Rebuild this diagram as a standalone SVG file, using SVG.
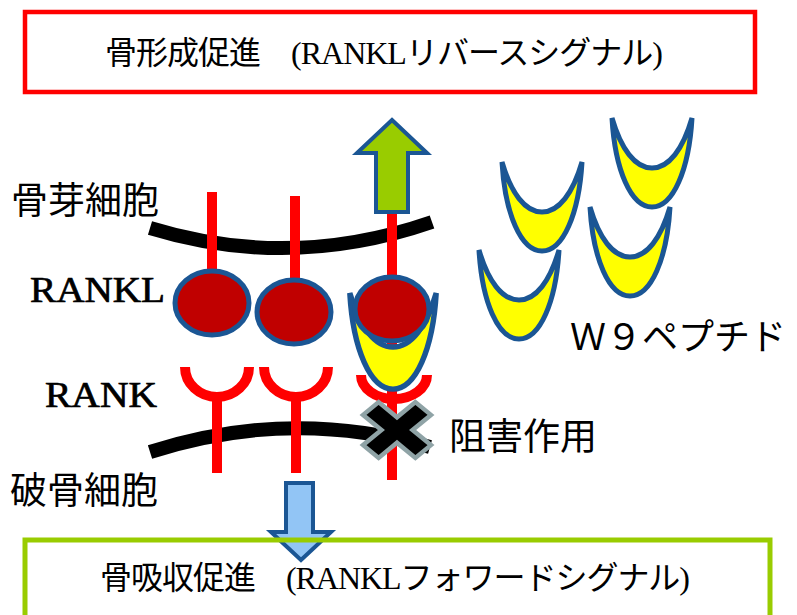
<svg xmlns="http://www.w3.org/2000/svg" width="797" height="615" viewBox="0 0 797 615">
  <style>
    .box-text { font-family: "Liberation Serif", "Noto Sans CJK JP", serif; font-size: 32px; fill: #000; }
    .cell { font-family: "Noto Sans CJK JP", sans-serif; font-size: 37px; fill: #000; }
    .mol { font-family: "Liberation Serif", "Noto Sans CJK JP", serif; font-size: 36px; fill: #000; }
    .heavy { stroke: #000; stroke-width: 0.7; }
    .membrane { fill: none; stroke: #000; stroke-width: 14; }
    .red { fill: none; stroke: #ff0000; stroke-width: 10; }
    .rankl { fill: #c00000; stroke: #1b5694; stroke-width: 5; }
    .peptide { fill: #ffff00; stroke: #1b5694; stroke-width: 5; stroke-linejoin: miter; }
  </style>
  <defs>
    <!-- crescent-shaped W9 peptide, tips at y=0 -->
    <path id="crescent" d="M -40 0 C -37 52 -21 89 0 89 C 21 89 37 52 40 0 C 31 31 17 50 0 50 C -17 50 -31 31 -40 0 Z"/>
  </defs>

  <!-- top result box -->
  <g id="bone-formation">
    <rect x="25" y="12" width="730" height="80" fill="#fff" stroke="#ff0000" stroke-width="4.5"/>
    <text class="box-text" x="105" y="64" textLength="558" lengthAdjust="spacing">骨形成促進　(RANKLリバースシグナル)</text>
  </g>

  <!-- cell labels -->
  <g id="osteoblast-label"><text class="cell" x="11" y="214">骨芽細胞</text></g>
  <g id="rankl-label"><text class="mol heavy" x="30" y="302" textLength="135" lengthAdjust="spacingAndGlyphs">RANKL</text></g>
  <g id="rank-label"><text class="mol heavy" x="45" y="407" textLength="112" lengthAdjust="spacingAndGlyphs">RANK</text></g>
  <g id="osteoclast-label"><text class="cell" x="10" y="504">破骨細胞</text></g>
  <g id="inhibition-label"><text class="cell" x="449" y="450" font-size="36">阻害作用</text></g>
  <g id="w9-label"><text class="mol" x="570" y="350" font-family="Noto Sans CJK JP, sans-serif">Ｗ９ペプチド</text></g>

  <!-- membranes -->
  <g id="osteoblast-membrane"><path class="membrane" d="M 150 228 Q 290 271 432 222"/></g>
  <g id="osteoclast-membrane"><path class="membrane" d="M 150 452 Q 290 407 430 447"/></g>

  <!-- connectors: receptor stems and signal arrows -->
  <g id="connectors">
    <line class="red" x1="212" y1="192" x2="212" y2="285"/>
    <line class="red" x1="295" y1="196" x2="295" y2="295"/>
    <line class="red" x1="392" y1="205" x2="392" y2="480"/>
    <polygon id="reverse-arrow" points="392,120 427,153 408,153 408,212 376,212 376,153 357,153" fill="#99cc00" stroke="#1b5694" stroke-width="4"/>
    <polygon id="forward-arrow" points="286,483 313,483 313,532 331,532 301,560 271,532 286,532" fill="#92c5f5" stroke="#1b5694" stroke-width="4"/>
  </g>

  <!-- RANK receptors -->
  <g id="rank-1">
    <path class="red" d="M 185 367 A 32 30 0 0 0 249 367 M 217 396 V 473"/>
  </g>
  <g id="rank-2">
    <path class="red" d="M 264 367 A 32 30 0 0 0 328 367 M 296 396 V 473"/>
  </g>
  <g id="rank-3">
    <path class="red" d="M 361 375 A 33 24 0 0 0 427 375"/>
  </g>

  <!-- RANKL ligands -->
  <g id="rankl-1"><ellipse class="rankl" cx="212" cy="303" rx="37" ry="32"/></g>
  <g id="rankl-2"><ellipse class="rankl" cx="294" cy="312" rx="37" ry="32"/></g>

  <!-- RANKL bound by a W9 peptide -->
  <g id="rankl-3">
    <use href="#crescent" class="peptide" transform="translate(393,293) scale(1.08)"/>
    <ellipse class="rankl" cx="392" cy="309" rx="37" ry="32"/>
  </g>

  <!-- free W9 peptides -->
  <g id="peptide-1"><use href="#crescent" class="peptide" transform="translate(652,118)"/></g>
  <g id="peptide-2"><use href="#crescent" class="peptide" transform="translate(542,162)"/></g>
  <g id="peptide-3"><use href="#crescent" class="peptide" transform="translate(630,207)"/></g>
  <g id="peptide-4"><use href="#crescent" class="peptide" transform="translate(519,250)"/></g>

  <!-- inhibition mark -->
  <g id="inhibition-x">
    <polygon points="-11,-37 11,-37 11,-11 37,-11 37,11 11,11 11,37 -11,37 -11,11 -37,11 -37,-11 -11,-11"
             transform="translate(397,430) scale(1,0.82) rotate(45)"
             fill="#000" stroke="#8fa3a6" stroke-width="5" stroke-linejoin="miter"/>
  </g>

  <!-- bottom result box -->
  <g id="bone-resorption">
    <rect x="25" y="540" width="745" height="100" fill="none" stroke="#99cc00" stroke-width="5"/>
    <text class="box-text" x="100" y="589" textLength="590" lengthAdjust="spacing">骨吸収促進　(RANKLフォワードシグナル)</text>
  </g>
</svg>
